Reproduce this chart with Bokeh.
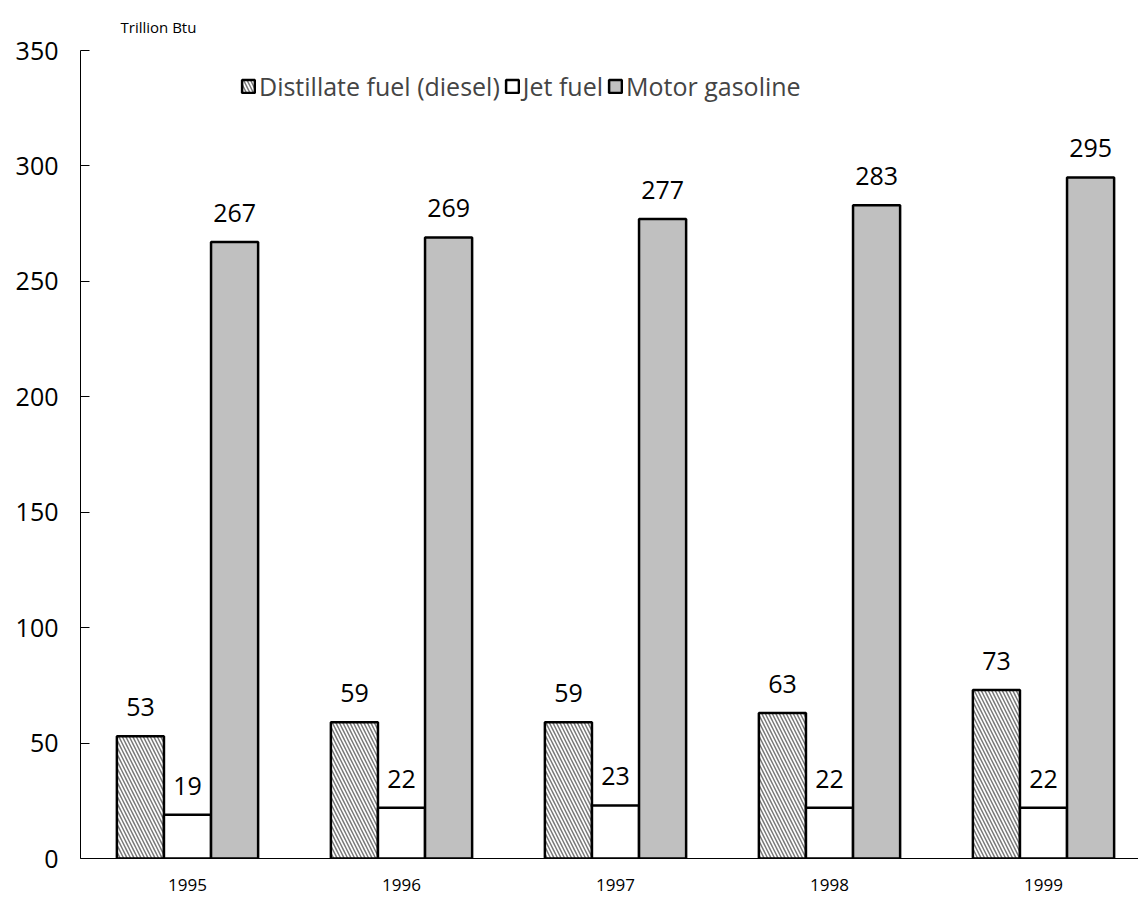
from bokeh.plotting import figure
from bokeh.models import ColumnDataSource, Range1d, FixedTicker, Legend, LegendItem
from bokeh.core.properties import value
from bokeh.embed import file_html
from bokeh.resources import INLINE

years = ["1995", "1996", "1997", "1998", "1999"]
diesel = [53, 59, 59, 63, 73]
jet = [19, 22, 23, 22, 22]
gasoline = [267, 269, 277, 283, 295]
y_ticks = [0, 50, 100, 150, 200, 250, 300, 350]

FONT = "Open Sans"
centers = [i + 0.5 for i in range(len(years))]
bw = 0.22

p = figure(width=1138, height=903, output_backend="svg", toolbar_location=None,
           x_range=Range1d(0, 1058 / 214), y_range=Range1d(0, 350),
           min_border_left=80, min_border_right=0, min_border_top=50, min_border_bottom=45,
           title="Trillion Btu")
p.outline_line_color = None
p.grid.visible = False
p.background_fill_color = "white"

# unit caption in the top-left corner
p.title.align = "left"
p.title.offset = 40
p.title.text_font = FONT
p.title.text_font_size = "15px"
p.title.text_font_style = "normal"
p.title.text_color = "black"
p.title.standoff = 28

series = [
    ("Distillate fuel (diesel)", diesel, -bw, dict(fill_color="white", hatch_pattern="\\", hatch_color="#7a7a7a",
                                                   hatch_scale=7, hatch_weight=1.5)),
    ("Jet fuel", jet, 0.0, dict(fill_color="white")),
    ("Motor gasoline", gasoline, bw, dict(fill_color="#c0c0c0")),
]

items = []
for name, vals, off, style in series:
    src = ColumnDataSource(dict(x=[c + off for c in centers], top=vals, lab=[str(v) for v in vals]))
    r = p.vbar(x="x", top="top", width=bw, source=src, line_color="black", line_width=2.5, **style)
    p.text(x="x", y="top", text="lab", source=src, text_align="center", text_baseline="alphabetic",
           y_offset=-29, text_font=value(FONT), text_font_size="25px", text_color="black")
    items.append(LegendItem(label=name, renderers=[r]))

legend = Legend(items=items, orientation="horizontal", location=(160, 755), padding=0, margin=0,
                spacing=4, glyph_width=16, glyph_height=16, label_standoff=3,
                label_text_font=FONT, label_text_font_size="25px", border_line_color=None,
                background_fill_alpha=0)
p.add_layout(legend, "center")

# y axis: ticks pointing inward, large labels
p.yaxis.ticker = FixedTicker(ticks=y_ticks)
p.yaxis.major_tick_in = 9
p.yaxis.major_tick_out = 0
p.yaxis.minor_tick_line_color = None
p.yaxis.major_label_standoff = 22
p.yaxis.major_label_text_font = FONT
p.yaxis.major_label_text_font_size = "25px"
p.yaxis.major_label_text_color = "black"
p.yaxis.axis_line_color = "black"
p.yaxis.major_tick_line_color = "black"

# x axis: year labels under each group, no ticks
p.xaxis.ticker = FixedTicker(ticks=centers)
p.xaxis.major_label_overrides = {c: y for c, y in zip(centers, years)}
p.xaxis.major_tick_line_color = None
p.xaxis.minor_tick_line_color = None
p.xaxis.major_label_standoff = 14
p.xaxis.major_label_text_font = FONT
p.xaxis.major_label_text_font_size = "17px"
p.xaxis.major_label_text_color = "black"
p.xaxis.axis_line_color = "black"

open("out.html", "w").write(file_html(p, INLINE))
